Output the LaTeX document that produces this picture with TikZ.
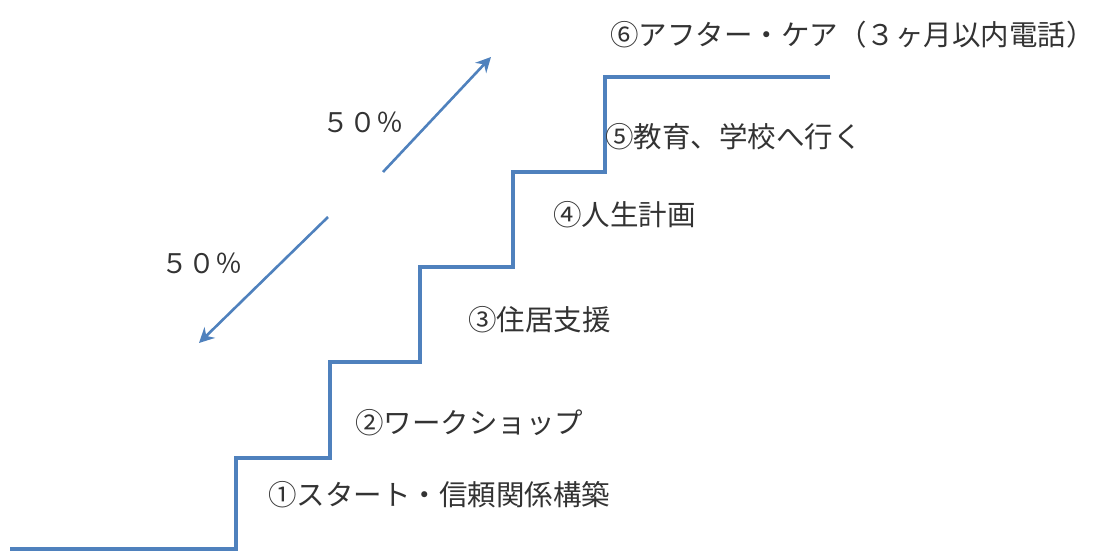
\documentclass[tikz,border=0pt]{standalone}
\usepackage{fontspec}
\newfontfamily\jp{Noto Sans CJK JP}
\usetikzlibrary{arrows.meta}
\definecolor{stairblue}{HTML}{4F81BD}
\definecolor{txtgray}{HTML}{333333}
\tikzset{
  stair/.style={draw=stairblue, line width=3.5pt, line join=miter},
  pctarrow/.style={draw=stairblue, line width=2.6pt, -{Stealth[length=15pt,width=15pt]}},
  lbl/.style={anchor=west, inner sep=0pt, font=\jp\fontsize{28.5}{31}\selectfont, text=txtgray},
  pct/.style={anchor=west, inner sep=0pt, font=\jp\fontsize{27}{30}\selectfont, text=txtgray}
}
\begin{document}
\begin{tikzpicture}[x=1pt,y=-1pt]
\useasboundingbox (0,0) rectangle (1110,554);
% staircase
\draw[stair] (10,549) -- (236,549) -- (236,458) -- (330,458) -- (330,362)
  -- (420,362) -- (420,267) -- (513,267) -- (513,172) -- (605,172)
  -- (605,77) -- (830,77);
% labels
\node[lbl] (s6) at (610,35) {⑥アフター・ケア（３ヶ月以内電話）};
\node[lbl] (s5) at (605,137) {⑤教育、学校へ行く};
\node[lbl] (s4) at (553,215) {④人生計画};
\node[lbl] (s3) at (468,320) {③住居支援};
\node[lbl] (s2) at (355,423) {②ワークショップ};
\node[lbl] (s1) at (268,495) {①スタート・信頼関係構築};
\node[pct] (pu) at (322,122) {５０％};
\node[pct] (pd) at (161,263) {５０％};
% arrows
\coordinate (a1s) at (383,172);
\coordinate (a1e) at (491,57);
\coordinate (a2s) at (328,217);
\coordinate (a2e) at (199,343);
\draw[pctarrow] (a1s) -- (a1e);
\draw[pctarrow] (a2s) -- (a2e);
\end{tikzpicture}
\end{document}
